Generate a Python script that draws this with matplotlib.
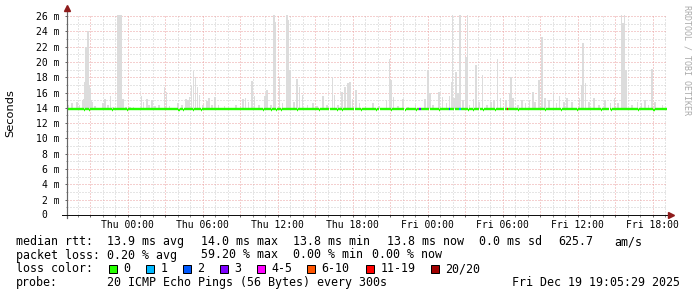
import numpy as np
import matplotlib
matplotlib.use("Agg")
import matplotlib.pyplot as plt
from matplotlib.patches import Rectangle
from matplotlib.collections import LineCollection
from matplotlib.ticker import FixedLocator, MultipleLocator

# ---------------- data ----------------
# time axis: hours relative to Thu 00:00 (Wed 19:05 .. Fri 19:05), 5-minute steps
x_start_h = -4.84
x_end_h = 43.16
step_h = 5 / 60

median_ms = 13.9
median_dip_ms = 13.75
median_dip_hours = [-3.52, -3.12, -1.27, 0.03, 4.11, 4.42, 5.28, 5.9, 10.84, 11.46,
                    11.92, 12.23, 13.56, 15.32, 16.71, 17.17, 18.63, 19.95, 21.04,
                    22.12, 23.04, 24.9, 27.21, 27.68, 28.45, 29.37, 31.23, 33.39,
                    34.63, 36.02, 37.87, 38.64, 40.8, 42.04]
gap_hours = [38.5]
loss_hours = [23.33, 23.42, 25.75, 26.5, 26.58, 30.33]
loss_levels = ["3", "3", "2", "1", "1", "11-19"]

smoke_floor_ms = 13.8
smoke_hours = [-4.76, -4.45, -4.05, -3.83, -3.61, -3.48, -3.40, -3.32, -3.24, -3.15,
               -3.07, -2.99, -2.91, -2.81, -2.59, -1.98, -1.82, -1.58, -1.36, -1.14,
               -0.79, -0.71, -0.62, -0.54, -0.37, -0.12,
               0.19, 0.49, 1.11, 1.27, 1.58, 1.73, 1.95, 2.19, 2.50, 2.97, 3.12, 3.37,
               4.05, 4.36, 4.66, 4.82, 4.97, 5.13, 5.28, 5.44, 5.59, 5.75,
               6.05, 6.36, 6.52, 6.76, 6.98, 7.29, 7.75, 8.68, 9.24, 9.45, 9.67, 9.98,
               10.16, 10.53, 11.0, 11.15, 11.46, 11.71, 11.83,
               12.17, 12.39, 12.76, 12.85, 13.0, 13.31, 13.56, 13.75, 13.99, 14.39,
               14.86, 15.17, 15.63, 15.94, 16.40, 16.56, 16.86, 17.14, 17.39, 17.64,
               17.79, 18.01,
               18.26, 18.56, 19.03, 19.64, 20.11, 20.73, 20.97, 21.09, 21.28, 21.65,
               22.02, 22.42, 23.04, 23.81, 24.03, 24.19,
               24.43, 24.90, 25.20, 25.51, 25.76, 25.92, 26.01, 26.13, 26.29, 26.44,
               26.59, 26.84, 27.06, 27.21, 27.37, 27.68, 27.89, 28.14, 28.39, 28.76,
               29.07, 29.31, 29.59, 29.84,
               30.30, 30.55, 30.67, 30.86, 31.23, 31.54, 31.85, 32.15, 32.46, 32.62,
               32.93, 33.14, 33.39, 33.70, 34.07, 34.32, 34.56, 34.93, 35.18, 35.55,
               36.17, 36.32, 36.42, 36.63, 36.94, 37.34, 37.71, 38.18, 38.64, 38.95,
               39.26, 39.51, 39.63, 39.75, 39.88, 40.34, 40.80, 41.11, 41.42, 41.67,
               41.98, 42.19, 42.81]
smoke_max_ms = [14.37, 14.59, 14.8, 14.37, 15.02, 15.2, 17.4, 22.0, 17.4, 24.0,
                17.0, 16.6, 15.0, 14.8, 14.24, 14.59, 15.11, 14.37, 15.55, 14.15,
                26.5, 26.5, 26.5, 26.5, 15.11, 14.15,
                14.07, 14.15, 15.55, 14.8, 15.11, 14.37, 15.02, 14.24, 14.37, 16.68, 16.12, 14.24,
                14.59, 14.37, 15.11, 15.02, 15.37, 16.86, 18.86, 18.08, 16.68, 15.68,
                14.37, 14.94, 15.24, 14.37, 15.37, 14.37, 14.24, 14.37, 15.11, 15.24, 14.8, 17.56,
                15.55, 14.37, 15.55, 16.33, 14.37, 26.5, 25.26,
                18.08, 14.59, 26.5, 25.5, 18.95, 14.8, 17.73, 16.77, 15.68, 14.37,
                14.59, 14.24, 15.55, 14.37, 18.08, 15.68, 14.37, 16.12, 16.77, 17.3,
                17.43, 15.11,
                16.33, 14.59, 14.24, 14.68, 14.24, 15.02, 20.34, 17.64, 15.37, 14.24,
                15.11, 14.15, 14.37, 15.11, 18.95, 15.9,
                14.37, 16.12, 15.37, 14.59, 15.55, 17.43, 26.5, 15.24, 18.73, 15.9,
                26.5, 15.02, 20.69, 26.5, 14.37, 15.11, 19.6, 14.8, 18.3, 14.37,
                14.8, 15.02, 20.34, 15.24,
                15.02, 15.99, 18.08, 15.24, 14.37, 15.02, 14.59, 15.02, 16.12, 14.8,
                17.64, 23.2, 15.24, 15.02, 15.9, 14.59, 15.55, 14.8, 15.24, 14.8,
                15.24, 16.99, 22.43, 17.2, 14.8, 15.24, 14.37, 15.02, 14.59, 15.24,
                14.68, 26.5, 25.05, 26.5, 18.95, 14.37, 14.8, 14.59, 15.02, 14.37,
                19.03, 14.8, 14.37]

xtick_hours = [-3, 0, 3, 6, 9, 12, 15, 18, 21, 24, 27, 30, 33, 36, 39, 42]
xtick_labels = ["", "Thu 00:00", "", "Thu 06:00", "", "Thu 12:00", "", "Thu 18:00",
                "", "Fri 00:00", "", "Fri 06:00", "", "Fri 12:00", "", "Fri 18:00"]
ytick_values = list(range(0, 27, 2))
ytick_labels = ["0"] + ["%d m" % v for v in range(2, 27, 2)]

loss_legend_labels = ["0", "1", "2", "3", "4-5", "6-10", "11-19", "20/20"]
loss_legend_colors = ["#26ff00", "#00b8ff", "#0059ff", "#7e00ff", "#ff00ff",
                      "#ff5500", "#ff0000", "#a00000"]

median_stats = ["13.9 ms avg", "14.0 ms max", "13.8 ms min", "13.8 ms now",
                "0.0 ms sd", "625.7", "am/s"]
loss_stats = ["0.20 % avg", "59.20 % max", "0.00 % min", "0.00 % now"]
probe_text = "20 ICMP Echo Pings (56 Bytes) every 300s"
date_text = "Fri Dec 19 19:05:29 2025"

# ---------------- figure ----------------
W, H, DPI = 697, 297, 100
fig = plt.figure(figsize=(W / DPI, H / DPI), dpi=DPI, facecolor="white")
ax = fig.add_axes([67 / W, (H - 215) / H, 600 / W, 200 / H])
ax.set_facecolor("white")
ax.set_xlim(x_start_h, x_end_h)
ax.set_ylim(0, 26.13)

MONO = "DejaVu Sans Mono"
px = 72 / DPI  # points per pixel

# grid
ax.set_axisbelow(True)
ax.xaxis.set_major_locator(FixedLocator(xtick_hours))
ax.set_xticklabels(xtick_labels)
ax.xaxis.set_minor_locator(FixedLocator(list(range(-4, 44))))
ax.yaxis.set_major_locator(FixedLocator(ytick_values))
ax.set_yticklabels(["" if l == "0" else l for l in ytick_labels])
ax.yaxis.set_minor_locator(MultipleLocator(1))
ax.grid(which="major", color="#eaa0a0", linestyle=(0, (1, 2)), linewidth=1 * px)
ax.grid(which="minor", color="#cdcdcd", linestyle=(0, (1, 2)), linewidth=1 * px)

for s in ax.spines.values():
    s.set_visible(False)
ax.tick_params(which="major", length=2 * px, width=1 * px, color="#666666",
               labelsize=7, direction="out")
ax.tick_params(which="minor", length=1.5 * px, width=1 * px, color="#888888",
               direction="out")
ax.tick_params(axis="y", pad=5 * px)
ax.tick_params(axis="x", pad=3.5 * px)
for lab in ax.get_xticklabels() + ax.get_yticklabels():
    lab.set_family(MONO)
fig.text(47 / W, 1 - 215 / H, ytick_labels[0], ha="right", va="center",
         family=MONO, size=7)

# smoke
sh = np.array(smoke_hours)
sm = np.array(smoke_max_ms)
ax.bar(sh, sm - smoke_floor_ms, bottom=smoke_floor_ms, width=step_h * 1.6,
       align="center", color="#dcdcdc", linewidth=0, zorder=2)

# median line coloured by loss
n = int(round((x_end_h - x_start_h) / step_h))
t = x_start_h + step_h * np.arange(n)
med = np.full(n, median_ms)
for h in median_dip_hours:
    med[int(round((h - x_start_h) / step_h))] = median_dip_ms
for h in gap_hours:
    med[int(round((h - x_start_h) / step_h))] = np.nan
cols = [loss_legend_colors[0]] * n
lmap = dict(zip(loss_legend_labels, loss_legend_colors))
for h, lv in zip(loss_hours, loss_levels):
    cols[int(round((h - x_start_h) / step_h))] = lmap[lv]
segs, scol = [], []
for i in range(n):
    if np.isnan(med[i]):
        continue
    segs.append([(t[i], med[i]), (t[i] + step_h, med[i])])
    scol.append(cols[i])
ax.add_collection(LineCollection(segs, colors=scol, linewidths=2.4 * px,
                                 capstyle="butt", zorder=3))

# axis lines and arrows
ax.plot([0, 0], [-0.015, 1.03], transform=ax.transAxes, clip_on=False,
        color="#666666", lw=1.2 * px, zorder=5)
ax.plot([-0.008, 1.0], [0, 0], transform=ax.transAxes, clip_on=False,
        color="#111111", lw=1 * px, zorder=5)
ax.plot([0], [1.035], marker="^", markersize=5, color="#8e1b1b",
        transform=ax.transAxes, clip_on=False, zorder=6)
ax.plot([1.007], [0], marker=">", markersize=5, color="#8e1b1b",
        transform=ax.transAxes, clip_on=False, zorder=6)

# y label and watermark
fig.text(10 / W, 1 - 113 / H, "Seconds", rotation=90, ha="center", va="center",
         family="DejaVu Sans", size=8.2)
fig.text(687 / W, 1 - 5 / H, "RRDTOOL / TOBI OETIKER", rotation=270, ha="center",
         va="top", family=MONO, size=6, color="#aaaaaa")

# legend rows
def ftext(x, y, s, **kw):
    fig.text(x / W, 1 - y / H, s, ha=kw.pop("ha", "left"), va="center",
             family=MONO, size=8.4, **kw)

row_y = [241.7, 255, 269, 282.7]
ftext(16, row_y[0], "median rtt:")
for s, x in zip(median_stats, [107.3, 200.7, 293.3, 386.7, 479.3, 558.3, 614]):
    ftext(x, row_y[0], s)
ftext(16, row_y[1], "packet loss:")
for s, x in zip(loss_stats, [107.3, 200.7, 293.3, 372.3]):
    ftext(x, row_y[1], s)
ftext(16, row_y[2], "loss color:")
box_x = [108.7, 145.7, 182.7, 219.7, 256.7, 307, 365.7, 430.7]
for lbl, c, x in zip(loss_legend_labels, loss_legend_colors, box_x):
    fig.add_artist(Rectangle((x / W, 1 - 273 / H), 8 / W, 8 / H, facecolor=c,
                             edgecolor="black", linewidth=1 * px,
                             transform=fig.transFigure))
    ftext(x + 14.6, row_y[2], lbl)
ftext(16, row_y[3], "probe:")
ftext(107.3, row_y[3], probe_text)
ftext(680, row_y[3], date_text, ha="right")

fig.savefig("out.png", dpi=DPI, facecolor="white")
